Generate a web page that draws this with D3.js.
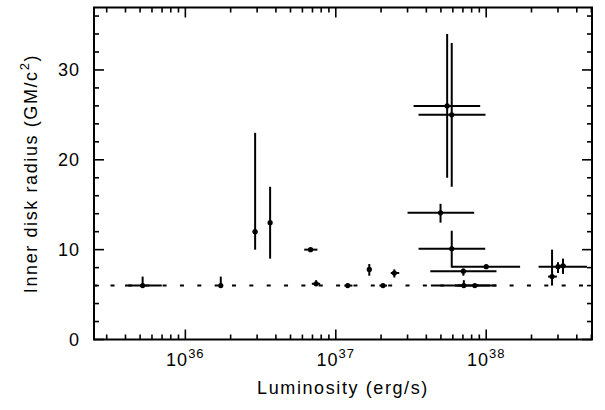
<!DOCTYPE html>
<html>
<head>
<meta charset="utf-8">
<script src="https://cdn.jsdelivr.net/npm/d3@7"></script>
<style>
  body { margin: 0; background: #fff; }
  text { font-family: "Liberation Sans", Arial, sans-serif; fill: #000; }
</style>
</head>
<body>
<div id="chart"></div>
<script>
// data (luminosity in erg/s, radius in GM/c^2)
var lum      = [5.2e35, 1.72e36, 2.91e36, 3.66e36, 6.8e36, 7.4e36, 1.2e37, 1.67e37, 2.06e37, 2.45e37, 4.97e37, 5.5e37, 5.9e37, 5.9e37, 7.05e37, 1.0e38, 7.1e37, 8.4e37, 2.74e38, 3.0e38, 3.24e38];
var lumLo    = [3.97e35, 1.68e36, 2.8e36, 3.55e36, 6.17e36, 6.93e36, 1.14e37, 1.62e37, 1.95e37, 2.32e37, 3.0e37, 3.29e37, 3.55e37, 3.55e37, 4.25e37, 5.92e37, 4.29e37, 6.2e37, 2.58e38, 2.23e38, 3.1e38];
var lumHi    = [6.97e35, 1.76e36, 3.0e36, 3.77e36, 7.55e36, 7.87e36, 1.29e37, 1.72e37, 2.19e37, 2.64e37, 8.32e37, 9.12e37, 9.89e37, 9.85e37, 1.17e38, 1.68e38, 1.06e38, 1.17e38, 2.95e38, 4.68e38, 3.38e38];
var radius   = [6.0, 6.0, 12.0, 13.0, 10.0, 6.2, 6.0, 7.8, 6.0, 7.4, 14.1, 26.0, 25.0, 10.1, 7.6, 8.1, 6.0, 6.0, 7.0, 8.1, 8.2];
var radiusLo = [6.0, 6.0, 10.0, 9.0, 10.0, 6.0, 6.0, 7.1, 6.0, 6.9, 13.0, 18.0, 17.0, 8.0, 7.1, 8.1, 6.0, 6.0, 6.0, 7.4, 7.3];
var radiusHi = [7.0, 7.0, 23.0, 17.0, 10.0, 6.6, 6.0, 8.4, 6.0, 7.8, 15.1, 34.0, 33.0, 12.1, 7.9, 8.1, 6.6, 6.0, 10.0, 8.6, 9.0];

var iscoRadius = 6;
var xTickExps = [36, 37, 38];
var yTicks = [0, 10, 20, 30];

// dimensions
var svgWidth = 605;
var svgHeight = 410;
var margin = { top: 7.5, right: 13, bottom: 70.5, left: 94 };
var width = svgWidth - margin.left - margin.right;
var height = svgHeight - margin.top - margin.bottom;

var svg = d3.select("#chart").append("svg")
  .attr("width", svgWidth)
  .attr("height", svgHeight);

var chartGroup = svg.append("g")
  .attr("transform", `translate(${margin.left}, ${margin.top})`);

// scales
var xScale = d3.scaleLog()
  .domain([2.47e35, 5.05e38])
  .range([0, width]);

var yScale = d3.scaleLinear()
  .domain([0, 36.95])
  .range([height, 0]);

// minor / major ticks on all four sides, pointing inwards
var xMinor = [];
for (var e = 35; e <= 38; e++) {
  for (var m = 1; m <= 9; m++) {
    var v = m * Math.pow(10, e);
    if (v >= xScale.domain()[0] && v <= xScale.domain()[1]) xMinor.push(v);
  }
}
var yMinor = d3.range(0, 37, 2);

var tickG = chartGroup.append("g")
  .attr("stroke", "#000")
  .attr("stroke-width", 1.6);

xMinor.forEach(function(v) {
  var major = Math.abs(Math.log10(v) - Math.round(Math.log10(v))) < 1e-9;
  var len = major ? 10 : 5;
  var x = xScale(v);
  tickG.append("line").attr("x1", x).attr("x2", x).attr("y1", height).attr("y2", height - len);
  tickG.append("line").attr("x1", x).attr("x2", x).attr("y1", 0).attr("y2", len);
});

yMinor.forEach(function(v) {
  var len = v % 10 === 0 ? 10 : 5;
  var y = yScale(v);
  tickG.append("line").attr("x1", 0).attr("x2", len).attr("y1", y).attr("y2", y);
  tickG.append("line").attr("x1", width).attr("x2", width - len).attr("y1", y).attr("y2", y);
});

// frame
chartGroup.append("rect")
  .attr("width", width)
  .attr("height", height)
  .attr("fill", "none")
  .attr("stroke", "#000")
  .attr("stroke-width", 2);

// x tick labels 10^n
xTickExps.forEach(function(n) {
  var t = chartGroup.append("text")
    .attr("x", xScale(Math.pow(10, n)))
    .attr("y", height + 26)
    .attr("text-anchor", "middle")
    .style("font-size", "18px")
    .style("letter-spacing", "1px");
  t.append("tspan").text("10");
  t.append("tspan")
    .attr("dy", -8)
    .style("font-size", "13px")
    .text(n);
});

// y tick labels
chartGroup.selectAll(".ylab")
  .data(yTicks)
  .enter()
  .append("text")
  .attr("class", "ylab")
  .attr("x", -14)
  .attr("y", d => yScale(d))
  .attr("dy", "0.36em")
  .attr("text-anchor", "end")
  .style("font-size", "18px")
  .style("letter-spacing", "1px")
  .text(d => d);

// dotted line at 6 GM/c^2
chartGroup.append("line")
  .attr("x1", 0)
  .attr("x2", width)
  .attr("y1", yScale(iscoRadius))
  .attr("y2", yScale(iscoRadius))
  .attr("stroke", "#000")
  .attr("stroke-width", 2)
  .attr("stroke-dasharray", "4,13.35")
  .attr("stroke-dashoffset", 0.8);

// error bars + points
var idx = d3.range(lum.length);
var errG = chartGroup.append("g")
  .attr("stroke", "#000")
  .attr("stroke-width", 2);

errG.selectAll(".xerr")
  .data(idx)
  .enter()
  .append("line")
  .attr("x1", i => xScale(lumLo[i]))
  .attr("x2", i => xScale(lumHi[i]))
  .attr("y1", i => yScale(radius[i]))
  .attr("y2", i => yScale(radius[i]));

errG.selectAll(".yerr")
  .data(idx)
  .enter()
  .append("line")
  .attr("x1", i => xScale(lum[i]))
  .attr("x2", i => xScale(lum[i]))
  .attr("y1", i => yScale(radiusLo[i]))
  .attr("y2", i => yScale(radiusHi[i]));

chartGroup.selectAll("circle")
  .data(idx)
  .enter()
  .append("circle")
  .attr("cx", i => xScale(lum[i]))
  .attr("cy", i => yScale(radius[i]))
  .attr("r", 2.6)
  .attr("fill", "#000");

// axis titles
chartGroup.append("text")
  .attr("x", width / 2)
  .attr("y", height + 54.5)
  .attr("text-anchor", "middle")
  .style("font-size", "18px")
  .style("letter-spacing", "1.6px")
  .text("Luminosity (erg/s)");

var yTitle = chartGroup.append("text")
  .attr("transform", `translate(-57, ${height / 2}) rotate(-90)`)
  .attr("text-anchor", "middle")
  .style("font-size", "18px")
  .style("letter-spacing", "1.6px");
yTitle.append("tspan").text("Inner disk radius (GM/c");
yTitle.append("tspan").attr("dy", -8).style("font-size", "13px").text("2");
yTitle.append("tspan").attr("dy", 8).text(")");
</script>
</body>
</html>
